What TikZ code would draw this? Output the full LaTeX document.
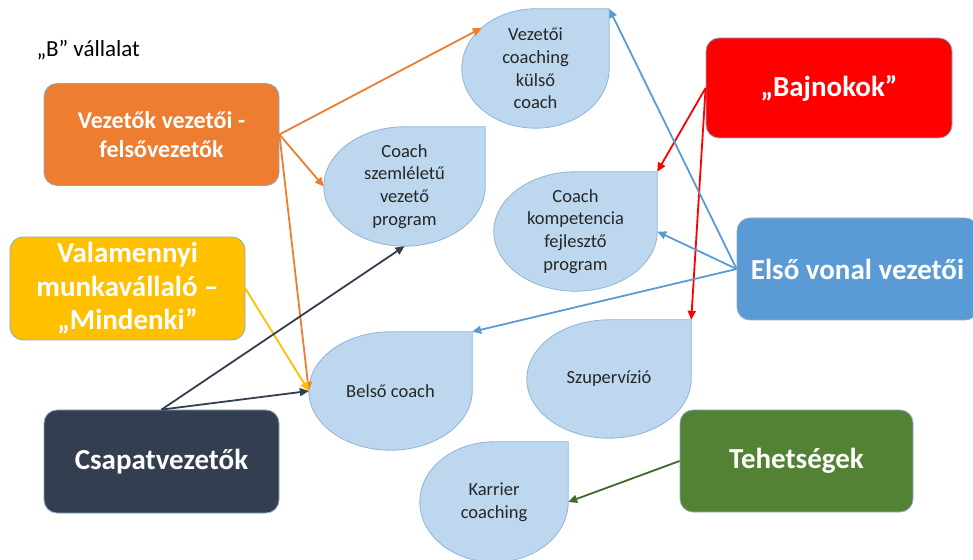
\documentclass[tikz,border=0pt]{standalone}
\usepackage{fontspec}
\setmainfont{Carlito}
\usetikzlibrary{arrows.meta,calc,backgrounds}

\definecolor{felsoC}{HTML}{ED7D31}
\definecolor{mindenkiC}{HTML}{FFC000}
\definecolor{csapatC}{HTML}{333F50}
\definecolor{bajnokC}{HTML}{FF0000}
\definecolor{elsoC}{HTML}{5B9BD5}
\definecolor{tehetsegC}{HTML}{548235}
\definecolor{tehetsegL}{HTML}{3E6B27}
\definecolor{dropC}{HTML}{BDD7EE}
\definecolor{dropL}{HTML}{8FB4DA}
\definecolor{dropT}{HTML}{262626}
\definecolor{boxL}{HTML}{8EA9C8}

% teardrop outline round a rectangle node, square corner top right
\newcommand{\dropshape}[1]{%
  \filldraw[fill=dropC, draw=dropL, line width=0.8pt] (#1.west)
    .. controls ($(#1.west)!0.552!(#1.north west)$) and ($(#1.north)!0.552!(#1.north west)$) .. (#1.north)
    -- (#1.north east) -- (#1.east)
    .. controls ($(#1.east)!0.552!(#1.south east)$) and ($(#1.south)!0.552!(#1.south east)$) .. (#1.south)
    .. controls ($(#1.south)!0.552!(#1.south west)$) and ($(#1.west)!0.552!(#1.south west)$) .. (#1.west) -- cycle;}

\begin{document}
\begin{tikzpicture}[x=1pt,y=1pt,
    box/.style={draw=boxL, line width=0.8pt, rounded corners=13pt,
      minimum width=235pt, minimum height=102pt, align=center, text=white,
      font=\fontsize{29}{33.5}\selectfont\bfseries},
    drop/.style={inner sep=0pt, align=center, text=dropT,
      font=\fontsize{18.5}{22.7}\selectfont},
    link/.style={line width=1.8pt, -{Triangle[length=9pt,width=8pt]}}]
  \useasboundingbox (0,0) rectangle (973,559);
  \clip (0,0) rectangle (973,559);

  \node[anchor=base west, font=\fontsize{23}{27}\selectfont] (cim) at (33,502) {„B” vállalat};

  % source boxes
  \node[box, fill=felsoC, font=\fontsize{24}{29}\selectfont\bfseries] (felso) at (161.5,424.5) {Vezetők vezetői -\\felsővezetők};
  \node[box, fill=mindenkiC, minimum height=103pt] (mindenki) at (127.5,270.5) {Valamennyi\\munkavállaló –\\„Mindenki”};
  \node[box, fill=csapatC, minimum height=103pt] (csapat) at (161.5,97.5) {Csapatvezetők};
  \node[box, fill=bajnokC, minimum width=246pt, minimum height=100pt] (bajnok) at (829,471) {„Bajnokok”};
  \node[box, fill=elsoC, minimum width=241pt] (elsovonal) at (857.5,290) {Első vonal vezetői};
  \node[box, fill=tehetsegC, minimum width=233pt] (tehetseg) at (796.5,98) {Tehetségek};

  % programmes
  \node[drop, minimum width=147pt, minimum height=119pt] (vezetoi) at (535.5,490.5) {Vezetői\\coaching\\külső\\coach};
  \node[drop, minimum width=161pt, minimum height=119pt] (szemlelet) at (404.5,372.5) {Coach\\szemléletű\\vezető\\program};
  \node[drop, minimum width=163pt, minimum height=119pt] (kompetencia) at (575.5,327.5) {Coach\\kompetencia\\fejlesztő\\program};
  \node[drop, minimum width=163pt, minimum height=118pt] (belso) at (390.5,168) {Belső coach};
  \node[drop, minimum width=164pt, minimum height=118pt] (szuper) at (609,180) {Szupervízió};
  \node[drop, minimum width=148pt, minimum height=120pt] (karrier) at (494,57) {Karrier\\coaching};

  \begin{scope}[on background layer]
    \foreach \d in {vezetoi,szemlelet,kompetencia,belso,szuper,karrier}
      \dropshape{\d};
  \end{scope}

  \draw[link, felsoC] (felso.east) -- ($(vezetoi.center)+(137:73.5 and 59.5)$);
  \draw[link, felsoC] (felso.east) -- (szemlelet.west);
  \draw[link, felsoC] (felso.east) -- (belso.west);
  \draw[link, mindenkiC] (mindenki.east) -- (belso.west);
  \draw[link, csapatC] (csapat.north) -- (szemlelet.south);
  \draw[link, csapatC] (csapat.north) -- (belso.west);
  \draw[link, bajnokC] (bajnok.west) -- (kompetencia.north east);
  \draw[link, bajnokC] (bajnok.west) -- (szuper.north east);
  \draw[link, elsoC] (elsovonal.west) -- (vezetoi.north east);
  \draw[link, elsoC] (elsovonal.west) -- (kompetencia.east);
  \draw[link, elsoC] (elsovonal.west) -- (belso.north east);
  \draw[link, tehetsegL] (tehetseg.west) -- (karrier.east);
\end{tikzpicture}
\end{document}
